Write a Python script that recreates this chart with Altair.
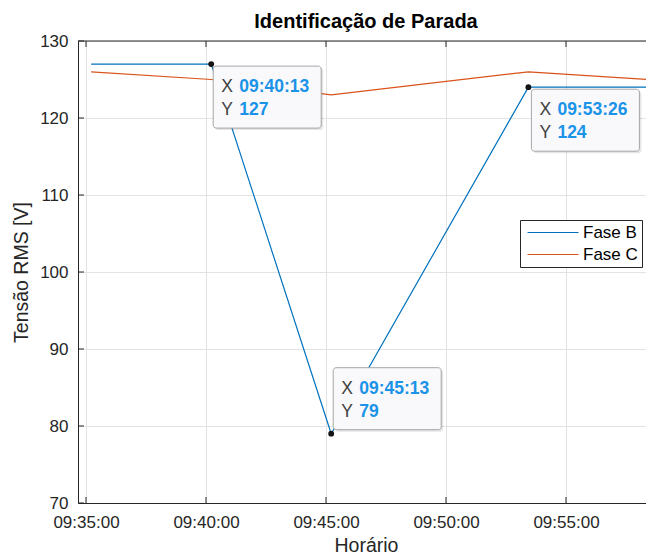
import altair as alt
import pandas as pd

# ---------------- data ----------------
times = ["09:35:13", "09:40:13", "09:45:13", "09:53:26", "09:58:25"]
fase_b = [127, 127, 79, 124, 124]
fase_c = [126, 125, 123, 126, 125]
series = ["Fase B", "Fase C"]
colors = ["#0072BD", "#D95319"]

tip_times = ["09:40:13", "09:53:26", "09:45:13"]
tip_values = [127, 124, 79]

x_ticks = ["09:35:00", "09:40:00", "09:45:00", "09:50:00", "09:55:00"]
y_ticks = [70, 80, 90, 100, 110, 120, 130]
x_domain = ["09:34:40", "09:58:40"]
y_domain = [70, 130]

DAY = "2024-01-01T"
FONT = "Liberation Sans"
AX = "#262626"
BLUE = "#1a93e8"
W, H = 576, 462


def dt(s):
    h, m, sec = map(int, s.split(":"))
    return alt.DateTime(year=2024, month=1, date=1, hours=h, minutes=m, seconds=sec)


rows = []
for name, vals in zip(series, [fase_b, fase_c]):
    for t, v in zip(times, vals):
        rows.append({"t": DAY + t, "v": v, "serie": name})
lines_df = pd.DataFrame(rows)
tip_df = pd.DataFrame({"t": [DAY + t for t in tip_times], "v": tip_values})
xt_df = pd.DataFrame({"t": [DAY + t for t in x_ticks]})
yt_df = pd.DataFrame({"v": y_ticks})

xscale = alt.Scale(domain=[dt(x_domain[0]), dt(x_domain[1])], nice=False)
yscale = alt.Scale(domain=y_domain, nice=False, zero=False)

X = alt.X("t:T", scale=xscale,
          axis=alt.Axis(values=[dt(s) for s in x_ticks], format="%H:%M:%S",
                        title="Horário", labelFlush=False, labelOverlap=False))
Y = alt.Y("v:Q", scale=yscale,
          axis=alt.Axis(values=y_ticks, title="Tensão RMS [V]"))

lines = alt.Chart(lines_df).mark_line(strokeWidth=1.2).encode(
    x=X, y=Y,
    color=alt.Color("serie:N", scale=alt.Scale(domain=series, range=colors),
                    legend=alt.Legend(title=None, orient="none", legendX=442, legendY=179,
                                      strokeColor=AX, fillColor="white", padding=4,
                                      symbolType="M-1,0H9.2", symbolSize=100,
                                      symbolStrokeWidth=1.2, labelOffset=42,
                                      labelFontSize=17, labelFont=FONT, labelColor="#000",
                                      rowPadding=4)),
    detail="serie:N",
)

# inward ticks and top frame
frame_df = pd.DataFrame({"a": [0]})
top_frame = alt.Chart(frame_df).mark_rule(color=AX, strokeWidth=1).encode(
    x=alt.value(0), x2=alt.value(W), y=alt.value(0))
xt_bottom = alt.Chart(xt_df).mark_rule(color=AX).encode(
    x=alt.X("t:T", scale=xscale), y=alt.value(H), y2=alt.value(H - 6))
xt_top = alt.Chart(xt_df).mark_rule(color=AX).encode(
    x=alt.X("t:T", scale=xscale), y=alt.value(0), y2=alt.value(6))
yt_left = alt.Chart(yt_df).mark_rule(color=AX).encode(
    y=alt.Y("v:Q", scale=yscale), x=alt.value(0), x2=alt.value(6))

# data tips: offsets of the box's top-left corner from the point (pixels)
tip_layout = [(2, 2), (3, 2), (2, -66)]
BW, BH = 108, 62
FS = 17.5
tip_layers = []
for i, (dx, dy) in enumerate(tip_layout):
    base = alt.Chart(tip_df.iloc[[i]])
    enc = dict(x=alt.X("t:T", scale=xscale), x2=alt.X2("t"),
               y=alt.Y("v:Q", scale=yscale), y2=alt.Y2("v"))
    shadow = base.mark_rect(fill="#000000", opacity=0.10, cornerRadius=3,
                            xOffset=dx + 2, x2Offset=dx + BW + 2,
                            yOffset=dy + 2, y2Offset=dy + BH + 2).encode(**enc)
    box = base.mark_rect(fill="#f9f9fb", stroke="#a6a6a6", strokeWidth=1, cornerRadius=3,
                         xOffset=dx, x2Offset=dx + BW,
                         yOffset=dy, y2Offset=dy + BH).encode(**enc)
    pos = dict(x=alt.X("t:T", scale=xscale), y=alt.Y("v:Q", scale=yscale))
    lx = base.mark_text(align="left", baseline="middle", dx=dx + 8, dy=dy + 21,
                        font=FONT, fontSize=FS, color="#404040", text="X").encode(**pos)
    ly = base.mark_text(align="left", baseline="middle", dx=dx + 8, dy=dy + 44,
                        font=FONT, fontSize=FS, color="#404040", text="Y").encode(**pos)
    vx = base.mark_text(align="left", baseline="middle", dx=dx + 26, dy=dy + 21,
                        font=FONT, fontSize=FS, fontWeight="bold", color=BLUE).encode(
        **pos, text=alt.Text("t:T", format="%H:%M:%S"))
    vy = base.mark_text(align="left", baseline="middle", dx=dx + 26, dy=dy + 44,
                        font=FONT, fontSize=FS, fontWeight="bold", color=BLUE).encode(
        **pos, text=alt.Text("v:Q"))
    tip_layers += [shadow, box, lx, ly, vx, vy]

dots = alt.Chart(tip_df).mark_circle(size=34, color="#141414", opacity=1).encode(
    x=alt.X("t:T", scale=xscale), y=alt.Y("v:Q", scale=yscale))

chart = alt.layer(
    lines, top_frame, xt_bottom, xt_top, yt_left, *tip_layers, dots
).properties(
    width=W, height=H,
    title=alt.Title("Identificação de Parada", fontSize=20, fontWeight="bold",
                    font=FONT, color="#000", offset=8, dy=8, anchor="middle", frame="group"),
    autosize=alt.AutoSizeParams(type="none"),
    padding={"left": 70, "top": 33, "right": -8, "bottom": 53},
).configure_view(stroke="transparent").configure_axis(
    labelFont=FONT, titleFont=FONT, labelFontSize=17, titleFontSize=19.5,
    titleFontWeight="normal", labelColor=AX, titleColor=AX, domainColor=AX,
    gridColor="#e3e3e3", ticks=False, labelPadding=10,
).configure_axisX(titlePadding=6, labelPadding=11).configure_axisY(titlePadding=8)

chart.save("out.html", embed_options={"renderer": "svg", "actions": False})
